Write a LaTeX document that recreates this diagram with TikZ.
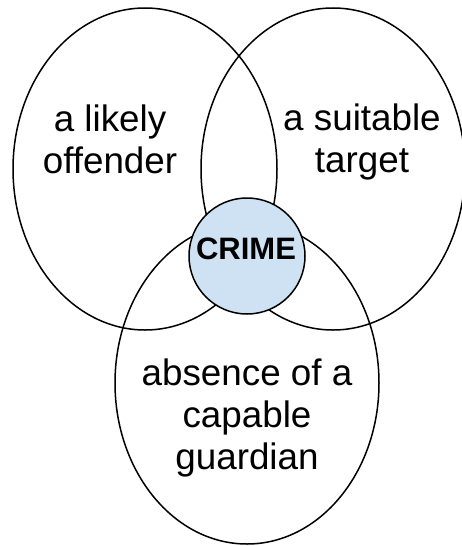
\documentclass[tikz,border=0pt]{standalone}
\usepackage{fontspec}
\setmainfont{Liberation Sans}[Ligatures=CommonOff]
\usepackage{tikz}
\usetikzlibrary{shapes.geometric}
\usetikzlibrary{positioning}

\definecolor{crimeblue}{RGB}{207,226,243}

\begin{document}
\begin{tikzpicture}[x=1pt, y=-1pt, on grid,
  oval/.style={ellipse, draw, line width=1.5pt, inner sep=0pt,
    minimum width=264pt, minimum height=322pt},
  crimeball/.style={circle, draw, line width=1.5pt, fill=crimeblue,
    inner sep=0pt, minimum size=116pt},
  words/.style={align=center, inner sep=0pt,
    font=\fontsize{36.8pt}{42pt}\selectfont},
  bigword/.style={inner sep=0pt, font=\fontsize{31pt}{36pt}\selectfont\bfseries}]
\useasboundingbox (0,0) rectangle (461,546);
% Define nodes
% Sets
\node[oval] (offender) at (145,169) {};
\node[oval, right=188pt of offender] (target) {};
\node[oval, below right=214pt and 102pt of offender] (guardian) {};
\node[crimeball, below right=87pt and 102pt of offender] (crime) {};

% Labels
\node[words, above left=30pt and 35pt of offender] (offendertext) {a likely\\offender};
\node[words, above right=27.5pt and 29pt of target] (targettext) {a suitable\\target};
\node[words, below=34.5pt of guardian] (guardiantext) {absence of a\\capable\\guardian};
\node[bigword, above left=7pt and 1pt of crime] (crimetext) {CRIME};
\end{tikzpicture}
\end{document}
